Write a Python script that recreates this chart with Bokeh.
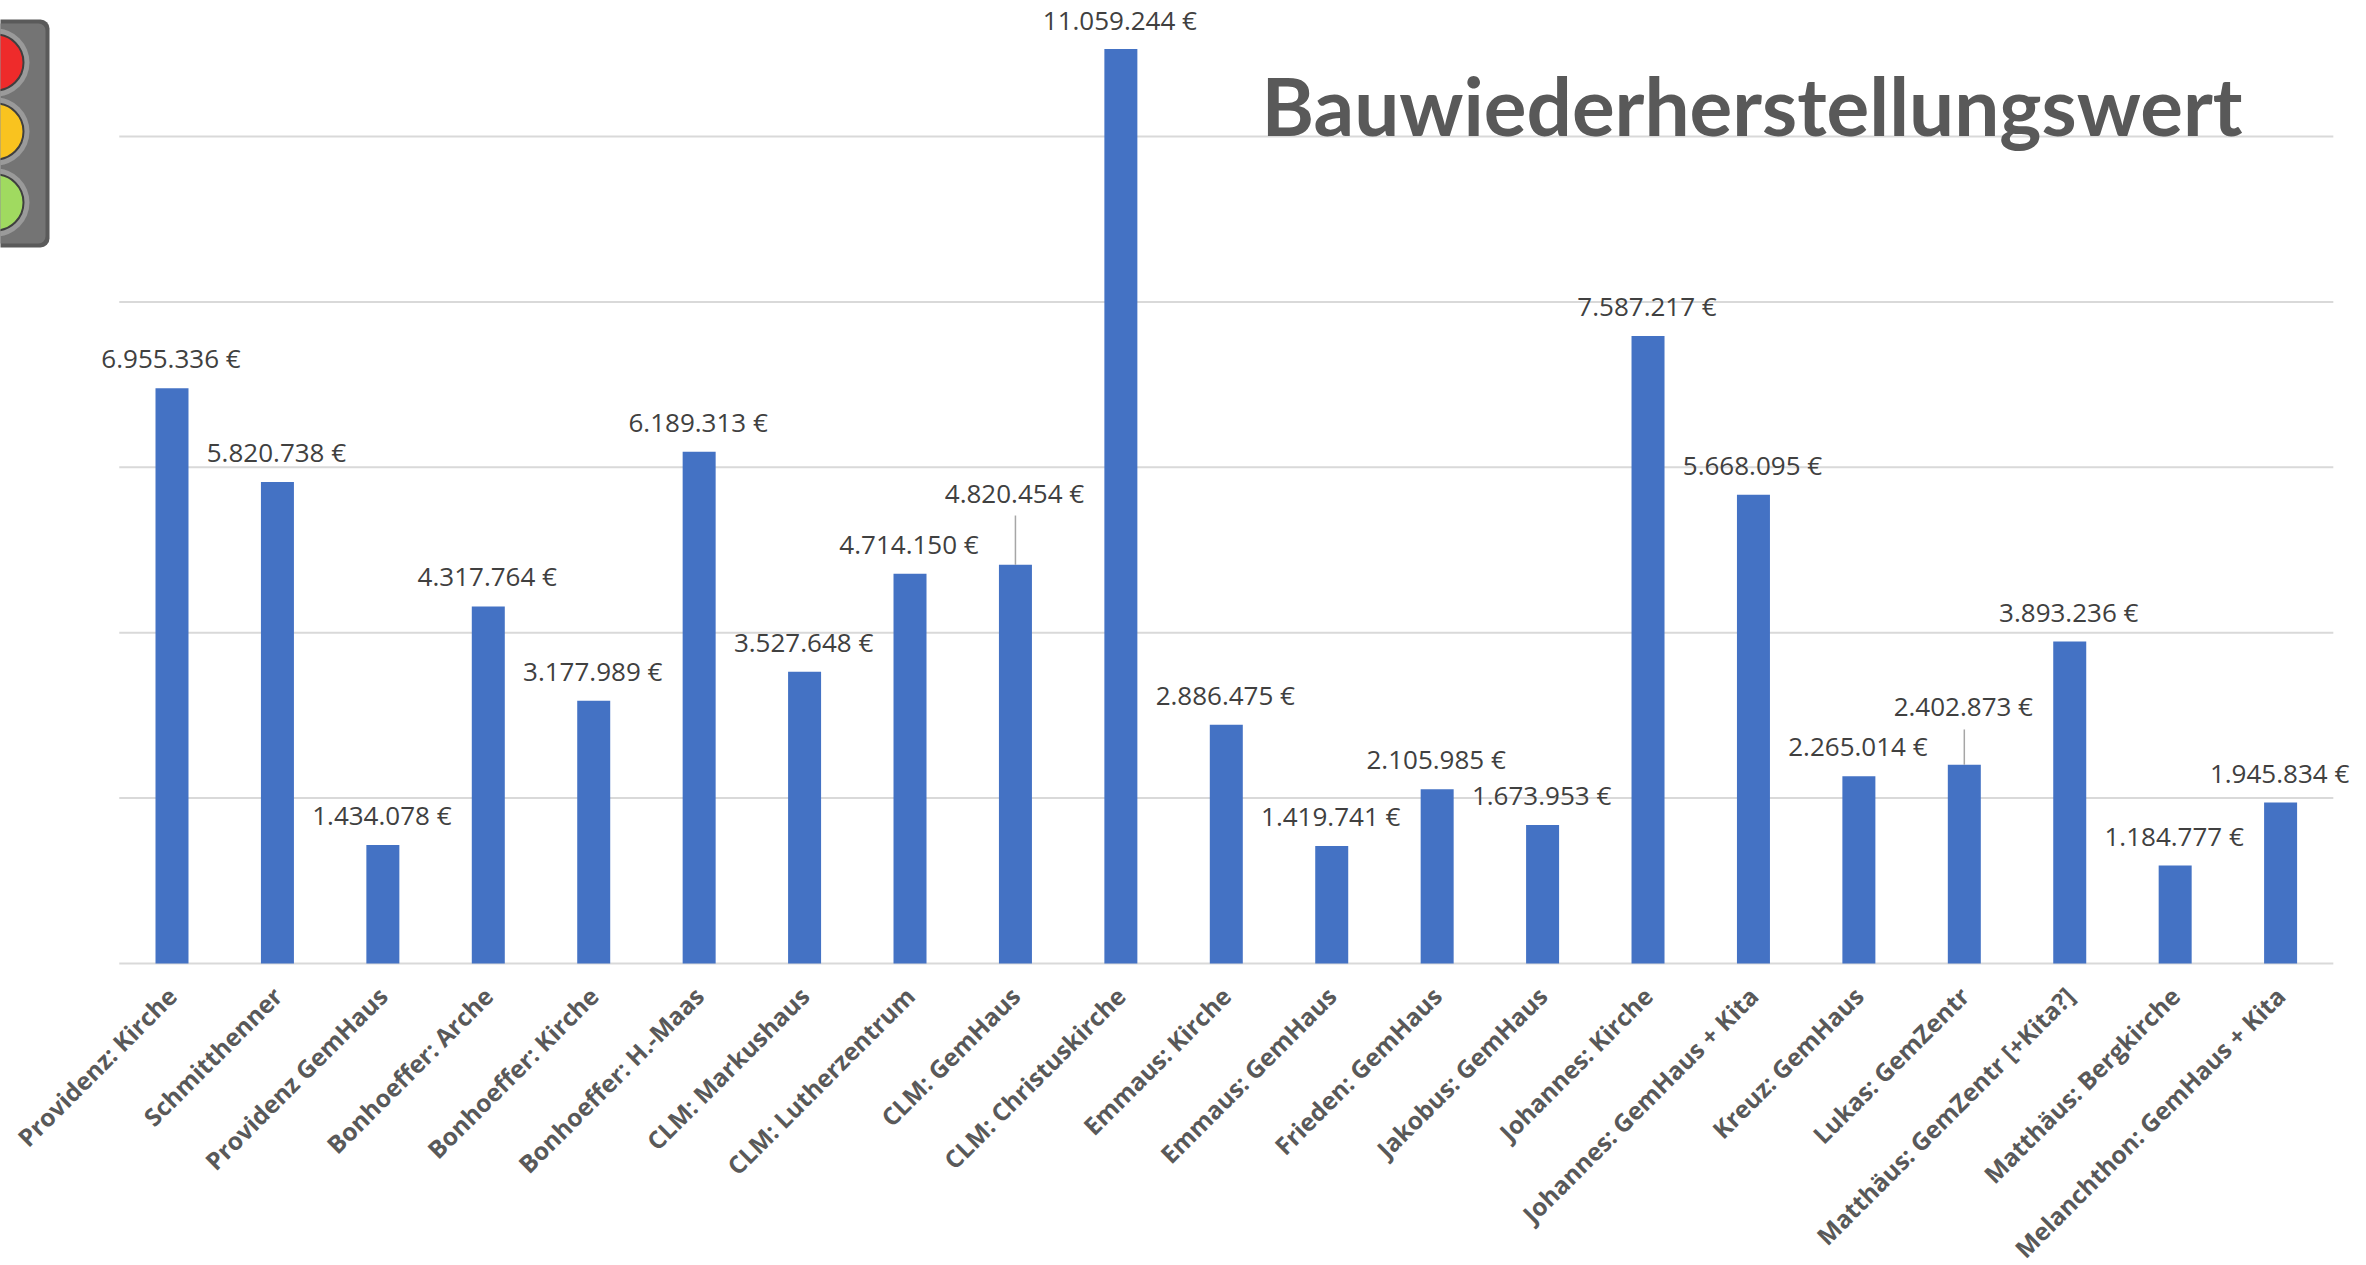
from bokeh.plotting import figure
from bokeh.embed import file_html
from bokeh.resources import INLINE
from bokeh.core.properties import value
from bokeh.models import Range1d, LinearAxis, FixedTicker, ColumnDataSource

title_text = "Bauwiederherstellungswert"
categories = ["Providenz: Kirche", "Schmitthenner", "Providenz GemHaus", "Bonhoeffer: Arche",
              "Bonhoeffer: Kirche", "Bonhoeffer: H.-Maas", "CLM: Markushaus", "CLM: Lutherzentrum",
              "CLM: GemHaus", "CLM: Christuskirche", "Emmaus: Kirche", "Emmaus: GemHaus",
              "Frieden: GemHaus", "Jakobus: GemHaus", "Johannes: Kirche", "Johannes: GemHaus + Kita",
              "Kreuz: GemHaus", "Lukas: GemZentr", "Matthäus: GemZentr [+Kita?]", "Matthäus: Bergkirche",
              "Melanchthon: GemHaus + Kita"]
values = [6955336, 5820738, 1434078, 4317764, 3177989, 6189313, 3527648, 4714150, 4820454, 11059244,
          2886475, 1419741, 2105985, 1673953, 7587217, 5668095, 2265014, 2402873, 3893236, 1184777, 1945834]
label_gap = [30, 30, 30, 30, 30, 30, 30, 30, 72, 29, 30, 30, 30, 30, 30, 30, 30, 59, 30, 30, 30]
leader_index = [8, 17]
leader_top = [5417000, 2830000]
grid_values = [0, 2000000, 4000000, 6000000, 8000000, 10000000]

BLUE = "#4472C4"
GRID = "#D9D9D9"
W, H = 2366, 1265
PX_PER_BAR = 105.43
PX_PER_UNIT = 165.4 / 2000000
BASE_Y = 963
X0_PX = 171.5

p = figure(width=W, height=H, output_backend="svg", toolbar_location=None,
           x_range=Range1d(-X0_PX / PX_PER_BAR, (W - X0_PX) / PX_PER_BAR),
           y_range=Range1d(-(H - BASE_Y) / PX_PER_UNIT, BASE_Y / PX_PER_UNIT),
           min_border=0, x_axis_type=None, y_axis_type=None)
p.outline_line_color = None
p.xgrid.visible = False
p.ygrid.visible = False

# pixel-space range for the decorative traffic light
p.extra_x_ranges["px"] = Range1d(0, W)
p.extra_y_ranges["px"] = Range1d(H, 0)

xs = list(range(len(categories)))

p.segment(x0=[-0.5] * len(grid_values), x1=[20.5] * len(grid_values), y0=grid_values, y1=grid_values,
          line_color=GRID, line_width=2)
p.vbar(x=xs, top=values, bottom=0, width=0.313, fill_color=BLUE, line_color=None)

ax = LinearAxis(fixed_location=0, ticker=FixedTicker(ticks=xs),
                major_label_overrides={i: c for i, c in enumerate(categories)},
                major_label_orientation=0.785398,
                major_label_text_font="Open Sans", major_label_text_font_style="bold",
                major_label_text_font_size="24.5px", major_label_text_color="#595959",
                major_tick_line_color=None, minor_tick_line_color=None,
                axis_line_color=None, major_label_standoff=22)
p.add_layout(ax, "below")

src = ColumnDataSource(dict(x=xs, y=values, off=[-g for g in label_gap],
                            txt=[f"{v:,}".replace(",", ".") + " €" for v in values]))
p.text(x="x", y="y", text="txt", source=src, y_offset="off", x_offset=-1, text_align="center", text_baseline="middle",
       text_font=value("Open Sans"), text_font_size="26px", text_color="#404040")

p.segment(x0=leader_index, x1=leader_index, y0=[values[i] for i in leader_index], y1=leader_top,
          line_color="#A6A6A6", line_width=1.5)

p.text(x=[(1261 - 171.5) / PX_PER_BAR], y=[10000000], y_offset=[-32], text=[title_text], text_align="left",
       text_baseline="alphabetic", text_font=value("Lato"), text_font_style="bold", text_font_size="80px",
       text_color="#595959")

# traffic light
kw = dict(x_range_name="px", y_range_name="px")
p.quad(left=[-40], right=[49], top=[19], bottom=[247], fill_color="#5A5A5A", line_color=None, border_radius=9, **kw)
p.quad(left=[-40], right=[45], top=[23], bottom=[243], fill_color="#747474", line_color=None, border_radius=7, **kw)
lamp_y = [62, 131, 202]
lamp_c = ["#EE2B2B", "#F9C31F", "#A0DA60"]
p.circle(x=[-5] * 3, y=lamp_y, radius=34, fill_color="#9A9A9A", line_color=None, **kw)
p.circle(x=[-5] * 3, y=lamp_y, radius=28, fill_color=lamp_c, line_color="#3F3F3F", line_width=2, **kw)

open("out.html", "w").write(file_html(p, INLINE))
